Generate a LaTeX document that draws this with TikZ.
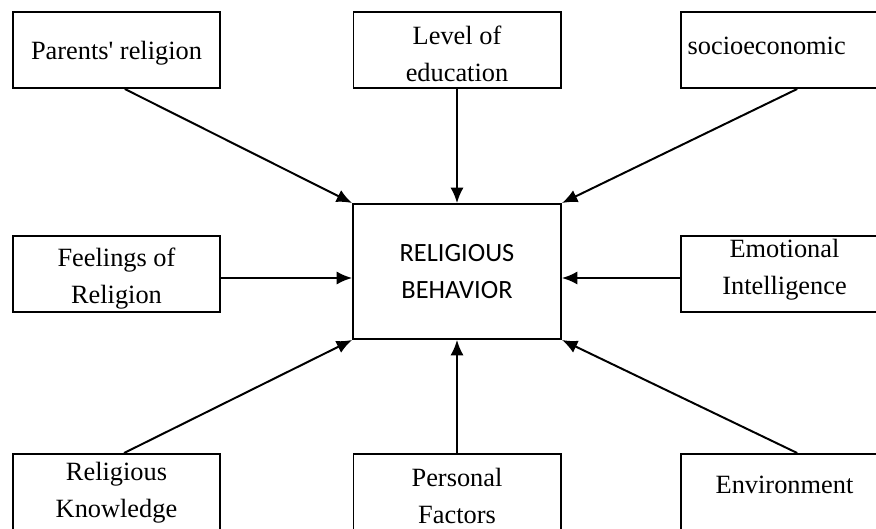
\documentclass[tikz,border=0pt]{standalone}
\usepackage{fontspec}
\setmainfont{Liberation Serif}[Ligatures=TeXOff]
\newfontfamily\calibrifont{Carlito}
\usetikzlibrary{positioning,arrows.meta,calc,shapes}
\tikzset{
    on grid,
    node distance=3cm,
    auto,
    factor/.style = {
        draw,
        shape=rectangle,
        minimum height=1.216cm,
        minimum width=3.312cm,
        inner sep=0pt,
        line width=0.9pt,
        align=center,
        text height=11.5pt,
        font=\fontsize{12}{16.8}\selectfont
    },
    twoline/.style = {
        factor,
        text height=29pt
    },
    behavior/.style = {
        draw,
        shape=rectangle,
        minimum height=2.16cm,
        minimum width=3.328cm,
        inner sep=0pt,
        line width=0.9pt,
        align=center,
        font=\calibrifont\fontsize{12}{16.8}\selectfont
    },
    >={Latex[length=7pt,width=6pt]},
}

\begin{document}
\begin{tikzpicture}[line width=0.9pt]
            \clip (0,0) rectangle (14.016,-8.464);

            \node[behavior] (cb) at (7.312,-4.344) {RELIGIOUS\\BEHAVIOR};

            \node[factor] (parents) at (1.864,-0.8) {Parents' religion};
            \node[twoline] (edu) at (7.312,-0.8) {Level of\\education};
            \node[factor, align=left, text width=3.1cm, text depth=7pt] (socio) at (12.552,-0.8) {socioeconomic};

            \node[twoline] (feel) at (1.864,-4.384) {Feelings of\\Religion};
            \node[twoline, text height=21pt] (emo) at (12.552,-4.384) {Emotional\\Intelligence};

            \node[twoline, text height=25.5pt] (know) at (1.864,-7.872) {Religious\\Knowledge};
            \node[twoline] (pers) at (7.312,-7.872) {Personal\\Factors};
            \node[factor, text depth=10.5pt] (env) at (12.552,-7.872) {Environment};

            \path[draw, ->] (parents.282) -- (cb.north west);
            \path[draw, ->] (edu.270) -- (cb.90);
            \path[draw, ->] (socio.288) -- (cb.north east);

            \path[draw, ->] ([yshift=-0.064cm]feel.east) -- ([yshift=-0.104cm]cb.west);
            \path[draw, ->] ([yshift=-0.064cm]emo.west) -- ([yshift=-0.104cm]cb.east);

            \path[draw, ->] (know.79) -- (cb.south west);
            \path[draw, ->] (pers.90) -- (cb.270);
            \path[draw, ->] (env.72) -- (cb.south east);
        \end{tikzpicture}
\end{document}
